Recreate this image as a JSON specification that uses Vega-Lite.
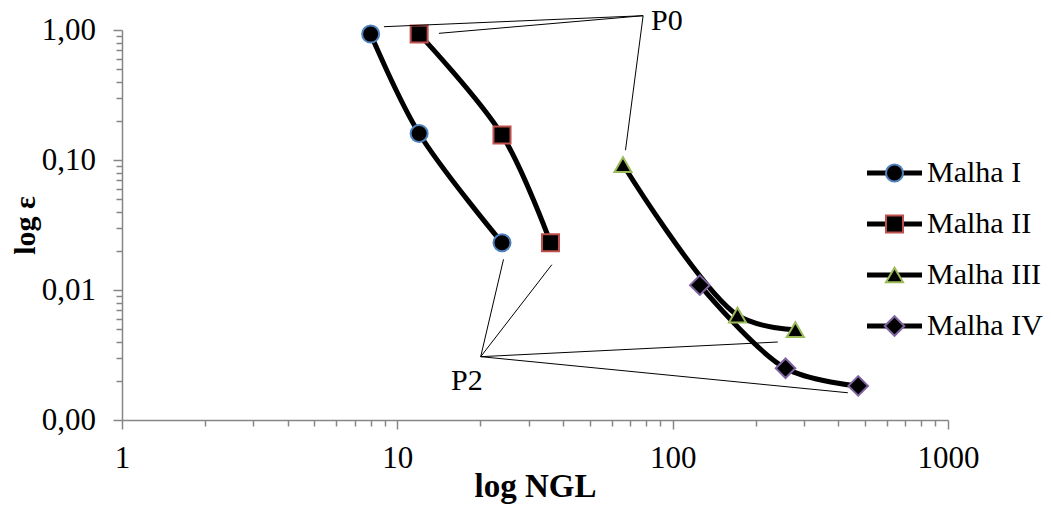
{
  "$schema": "https://vega.github.io/schema/vega-lite/v6.json",
  "width": 826,
  "height": 390,
  "autosize": "none",
  "padding": {"left": 122, "top": 30, "right": 103, "bottom": 85},
  "background": "white",
  "config": {
    "view": {"stroke": null},
    "font": "Liberation Serif",
    "axis": {
      "grid": false,
      "domainColor": "#868686",
      "domainWidth": 1.5,
      "tickColor": "#868686",
      "tickWidth": 1.5,
      "labelFont": "Liberation Serif",
      "labelFontSize": 31,
      "labelColor": "#000000",
      "labelOverlap": false,
      "labelFlush": false,
      "labelBound": false,
      "titleFont": "Liberation Serif",
      "titleFontWeight": "bold",
      "titleColor": "#000000"
    }
  },
  "datasets": {
    "series": [
      {"malha": "Malha I", "ngl": 8, "eps": 0.93},
      {"malha": "Malha I", "ngl": 12, "eps": 0.16},
      {"malha": "Malha I", "ngl": 24, "eps": 0.0231},
      {"malha": "Malha II", "ngl": 12, "eps": 0.93},
      {"malha": "Malha II", "ngl": 24, "eps": 0.156},
      {"malha": "Malha II", "ngl": 36, "eps": 0.0231},
      {"malha": "Malha III", "ngl": 66, "eps": 0.0923},
      {"malha": "Malha III", "ngl": 172, "eps": 0.0064},
      {"malha": "Malha III", "ngl": 279, "eps": 0.00495},
      {"malha": "Malha IV", "ngl": 125.5, "eps": 0.0109},
      {"malha": "Malha IV", "ngl": 257, "eps": 0.0025},
      {"malha": "Malha IV", "ngl": 472, "eps": 0.00183}
    ],
    "callouts": [
      {"label": "P0", "x": 78.1, "y": 1.288, "xe": 8.94, "ye": 1.06},
      {"label": "P0", "x": 78.1, "y": 1.288, "xe": 14.16, "ye": 0.943},
      {"label": "P0", "x": 78.1, "y": 1.288, "xe": 67.4, "ye": 0.119},
      {"label": "P2", "x": 20.08, "y": 0.00307, "xe": 24.3, "ye": 0.01722},
      {"label": "P2", "x": 20.08, "y": 0.00307, "xe": 36.4, "ye": 0.01565},
      {"label": "P2", "x": 20.08, "y": 0.00307, "xe": 240.9, "ye": 0.00398},
      {"label": "P2", "x": 20.08, "y": 0.00307, "xe": 432.8, "ye": 0.00162}
    ],
    "labels": [
      {"label": "P0", "x": 83.4, "y": 1.0},
      {"label": "P2", "x": 15.66, "y": 0.0017}
    ]
  },
  "layer": [
    {
      "data": {"name": "series"},
      "mark": {"type": "line", "interpolate": "catmull-rom", "strokeWidth": 5, "strokeCap": "round"},
      "encoding": {
        "x": {
          "field": "ngl", "type": "quantitative", "title": "log NGL",
          "scale": {"type": "log", "domain": [1, 1000], "nice": false},
          "axis": {
            "values": [1, 2, 3, 4, 5, 6, 7, 8, 9, 10, 20, 30, 40, 50, 60, 70, 80, 90, 100, 200, 300, 400, 500, 600, 700, 800, 900, 1000],
            "labelExpr": "(datum.value == 1 || datum.value == 10 || datum.value == 100 || datum.value == 1000) ? format(datum.value, 'd') : ''",
            "tickSize": {"condition": {"test": "datum.value == 1 || datum.value == 10 || datum.value == 100 || datum.value == 1000", "value": 9}, "value": 6},
            "labelPadding": 14.5,
            "titleFontSize": 33,
            "titlePadding": -3
          }
        },
        "y": {
          "field": "eps", "type": "quantitative", "title": "log ε",
          "scale": {"type": "log", "domain": [0.001, 1], "nice": false},
          "axis": {
            "values": [0.001, 0.002, 0.003, 0.004, 0.005, 0.006, 0.007, 0.008, 0.009, 0.01, 0.02, 0.03, 0.04, 0.05, 0.06, 0.07, 0.08, 0.09, 0.1, 0.2, 0.3, 0.4, 0.5, 0.6, 0.7, 0.8, 0.9, 1],
            "labelExpr": "(datum.value == 1 || datum.value == 0.1 || datum.value == 0.01 || datum.value == 0.001) ? replace(format(datum.value, '.2f'), '.', ',') : ''",
            "tickSize": {"condition": {"test": "datum.value == 1 || datum.value == 0.1 || datum.value == 0.01 || datum.value == 0.001", "value": 9}, "value": 6},
            "labelPadding": 17.5,
            "titleFontSize": 30,
            "titlePadding": 1
          }
        },
        "color": {
          "field": "malha", "type": "nominal",
          "scale": {"domain": ["Malha I", "Malha II", "Malha III", "Malha IV"], "range": ["#000000", "#000000", "#000000", "#000000"]},
          "legend": {
            "orient": "none", "legendX": 757.5, "legendY": 128, "title": null, "padding": 0,
            "symbolType": "M-3.235,0L3.235,0", "symbolSize": 289, "symbolStrokeWidth": 5,
            "symbolStrokeColor": "#000000",
            "labelFont": "Liberation Serif", "labelFontSize": 30, "labelColor": "#000000",
            "labelOffset": 17.5, "rowPadding": 21, "zindex": 0
          }
        }
      }
    },
    {
      "data": {"name": "series"},
      "mark": {"type": "point", "fill": "#000000", "filled": false, "strokeWidth": 2, "size": 290, "opacity": 1},
      "encoding": {
        "x": {"field": "ngl", "type": "quantitative", "title": "log NGL"},
        "y": {"field": "eps", "type": "quantitative", "title": "log ε"},
        "shape": {
          "field": "malha", "type": "nominal",
          "scale": {"range": ["circle", "square", "triangle-up", "M0,-1.15L1.15,0L0,1.15L-1.15,0Z"]},
          "legend": {
            "orient": "none", "legendX": 757.5, "legendY": 128, "title": null, "padding": 0,
            "symbolSize": 290, "symbolStrokeWidth": 2, "symbolFillColor": "#000000",
            "labelFont": "Liberation Serif", "labelFontSize": 30, "labelOpacity": 0,
            "labelOffset": 17.5, "rowPadding": 21, "zindex": 1,
            "encode": {"symbols": {"update": {"fill": {"value": "#000000"}, "opacity": {"value": 1}}}}
          }
        },
        "stroke": {
          "field": "malha", "type": "nominal",
          "scale": {"range": ["#4F81BD", "#C0504D", "#9BBB59", "#8064A2"]},
          "legend": {
            "orient": "none", "legendX": 757.5, "legendY": 128, "title": null, "padding": 0,
            "symbolSize": 290, "symbolStrokeWidth": 2, "symbolFillColor": "#000000",
            "labelFont": "Liberation Serif", "labelFontSize": 30, "labelOpacity": 0,
            "labelOffset": 17.5, "rowPadding": 21, "zindex": 1,
            "encode": {"symbols": {"update": {"fill": {"value": "#000000"}, "opacity": {"value": 1}}}}
          }
        }
      }
    },
    {
      "data": {"name": "callouts"},
      "mark": {"type": "rule", "color": "#000000", "strokeWidth": 1},
      "encoding": {
        "x": {"field": "x", "type": "quantitative", "title": "log NGL"},
        "y": {"field": "y", "type": "quantitative", "title": "log ε"},
        "x2": {"field": "xe"},
        "y2": {"field": "ye"}
      }
    },
    {
      "data": {"name": "labels"},
      "mark": {"type": "text", "align": "left", "baseline": "alphabetic", "font": "Liberation Serif", "fontSize": 30, "color": "#000000"},
      "encoding": {
        "x": {"field": "x", "type": "quantitative", "title": "log NGL"},
        "y": {"field": "y", "type": "quantitative", "title": "log ε"},
        "text": {"field": "label", "type": "nominal"}
      }
    }
  ]
}
